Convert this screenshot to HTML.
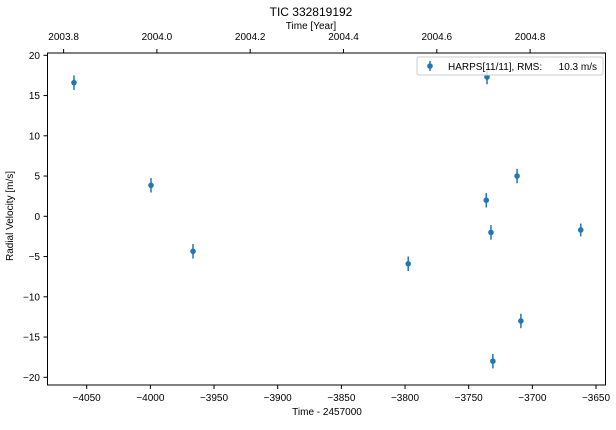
<!DOCTYPE html>
<html><head><meta charset="utf-8"><style>
body{margin:0;background:#fff}
svg text{font-family:"Liberation Sans",Arial,sans-serif;fill:#000}
</style></head><body>
<svg width="616" height="425" xmlns="http://www.w3.org/2000/svg">
<text x="311" y="16" font-size="12" text-anchor="middle">TIC 332819192</text>
<text x="311" y="29" font-size="10" text-anchor="middle">Time [Year]</text>
<text x="327" y="415" font-size="10" text-anchor="middle">Time - 2457000</text>
<text transform="translate(13,216) rotate(-90)" font-size="10" text-anchor="middle">Radial Velocity [m/s]</text>
<g id="ax"></g>
<g id="marks"></g>
<rect x="47.5" y="53" width="558" height="332" fill="none" stroke="#000" stroke-width="1"/>
<g>
<rect x="417" y="57" width="186" height="18" rx="2" fill="#fff" fill-opacity="0.8" stroke="#ccc"/>
<line x1="430" y1="61" x2="430" y2="71" stroke="#1f77b4" stroke-width="1.5"/>
<circle cx="430" cy="66" r="2.8" fill="#1f77b4"/>
<text x="448" y="70" font-size="10">HARPS[11/11], RMS:</text>
<text x="597" y="70" font-size="10" text-anchor="end">10.3 m/s</text>
</g>
</svg>
<script>
const times=[-4060,-3999.5,-3966.5,-3797.5,-3735.6,-3736.2,-3732.5,-3731,-3712,-3709,-3662];
const rvs=[16.6,3.85,-4.35,-5.9,17.3,2.0,-2.0,-18.0,5.0,-13.0,-1.7];
const errs=[0.9,0.9,0.9,0.9,0.9,0.9,0.9,0.9,0.9,0.9,0.8];
const xTicks=[-4050,-4000,-3950,-3900,-3850,-3800,-3750,-3700,-3650];
const yTicks=[20,15,10,5,0,-5,-10,-15,-20];
const yearTicks=[2003.8,2004.0,2004.2,2004.4,2004.6,2004.8];
const NS="http://www.w3.org/2000/svg";
const X=v=>86.7+(v+4050)*1.2733;
const Y=v=>216.3-v*8.05;
const YR=v=>156.9+(v-2004.0)/0.2*93.3;
const ax=document.getElementById('ax'),mk=document.getElementById('marks');
function el(t,a,p){const e=document.createElementNS(NS,t);for(const k in a)e.setAttribute(k,a[k]);p.appendChild(e);return e;}
xTicks.forEach(v=>{const x=X(v);
const l=el('line',{x1:x,x2:x,y1:385,y2:389,stroke:'#000'},ax);


const t=el('text',{x:x,y:401,'font-size':10,'text-anchor':'middle'},ax);t.textContent=String(v).replace('-','\u2212');

});
yTicks.forEach(v=>{const y=Y(v);
const l=el('line',{x1:43.5,x2:47.5,y1:y,y2:y,stroke:'#000'},ax);


const t=el('text',{x:40,y:y+3.5,'font-size':10,'text-anchor':'end'},ax);t.textContent=String(v).replace('-','\u2212');

});
yearTicks.forEach(v=>{const x=YR(v);
const l=el('line',{x1:x,x2:x,y1:49,y2:53,stroke:'#000'},ax);


const t=el('text',{x:x,y:40,'font-size':10,'text-anchor':'middle'},ax);t.textContent=v.toFixed(1);

});
times.forEach((v,i)=>{const x=X(v),y=Y(rvs[i]);
const g=el('g',{},mk);


el('line',{x1:x,x2:x,y1:Y(rvs[i]+errs[i]),y2:Y(rvs[i]-errs[i]),stroke:'#1f77b4','stroke-width':1.5},g);
el('circle',{cx:x,cy:y,r:2.8,fill:'#1f77b4'},g);});
</script>
</body></html>
